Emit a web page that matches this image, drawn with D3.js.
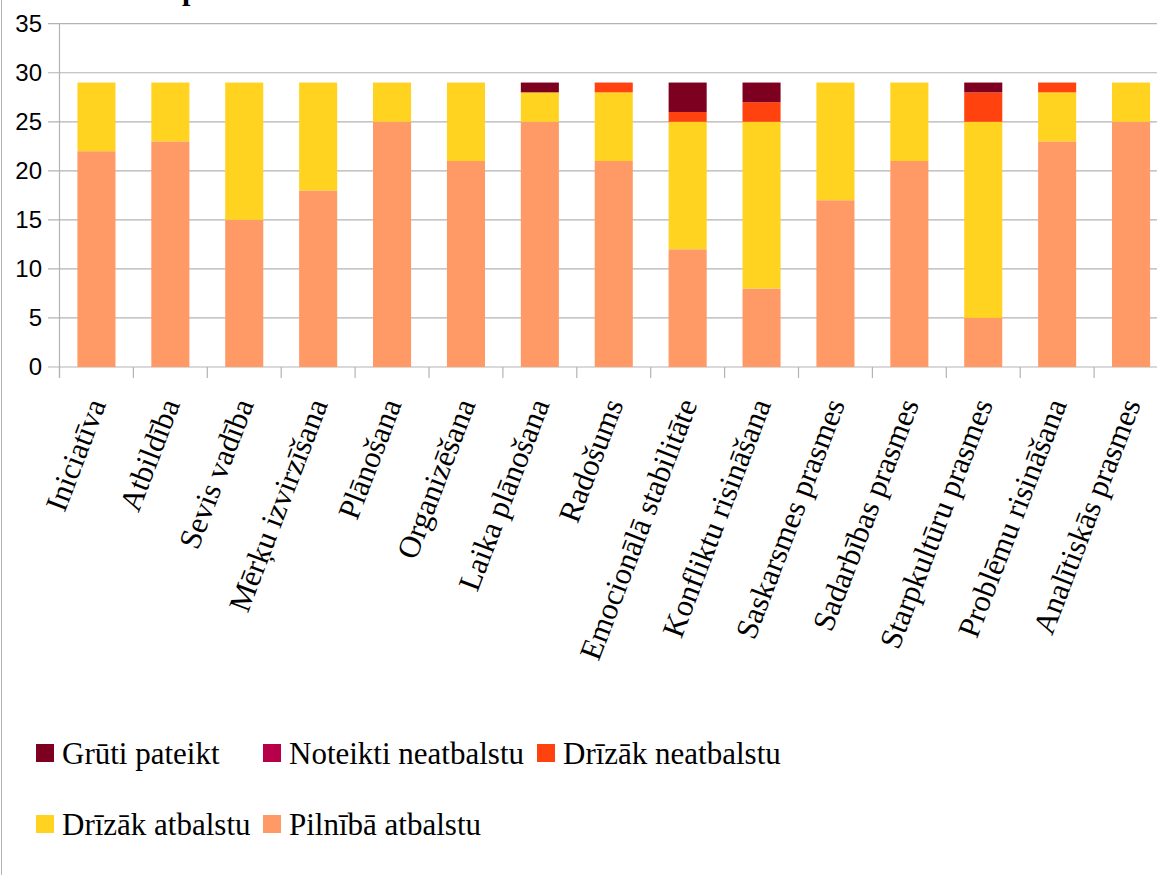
<!DOCTYPE html>
<html><head><meta charset="utf-8">
<script src="https://cdn.jsdelivr.net/npm/d3@7"></script>
<style>body{margin:0;background:#fff}svg{display:block}</style>
</head><body>
<svg id="c" width="1157" height="875"></svg>
<script>
const categories = ["Iniciatīva","Atbildība","Sevis vadība","Mērķu izvirzīšana","Plānošana","Organizēšana","Laika plānošana","Radošums","Emocionālā stabilitāte","Konfliktu risināšana","Saskarsmes prasmes","Sadarbības prasmes","Starpkultūru prasmes","Problēmu risināšana","Analītiskās prasmes"];
const pilnibaAtbalstu   = [22,23,15,18,25,21,25,21,12, 8,17,21, 5,23,25];
const drizakAtbalstu    = [ 7, 6,14,11, 4, 8, 3, 7,13,17,12, 8,20, 5, 4];
const drizakNeatbalstu  = [ 0, 0, 0, 0, 0, 0, 0, 1, 1, 2, 0, 0, 3, 1, 0];
const noteiktiNeatbalstu= [ 0, 0, 0, 0, 0, 0, 0, 0, 0, 0, 0, 0, 0, 0, 0];
const grutiPateikt      = [ 0, 0, 0, 0, 0, 0, 1, 0, 3, 2, 0, 0, 1, 0, 0];
const yTicks = [0,5,10,15,20,25,30,35];
const seriesNames = ["Pilnībā atbalstu","Drīzāk atbalstu","Drīzāk neatbalstu","Noteikti neatbalstu","Grūti pateikt"];
const seriesColors = ["#ff9966","#ffd320","#ff420e","#b8004a","#7e0021"];
const legendOrder = ["Grūti pateikt","Noteikti neatbalstu","Drīzāk neatbalstu","Drīzāk atbalstu","Pilnībā atbalstu"];

const seriesData = [pilnibaAtbalstu, drizakAtbalstu, drizakNeatbalstu, noteiktiNeatbalstu, grutiPateikt];
const table = categories.map((c,i)=>{const o={cat:c}; seriesNames.forEach((s,j)=>o[s]=seriesData[j][i]); return o;});
const stack = d3.stack().keys(seriesNames)(table);
const color = d3.scaleOrdinal().domain(seriesNames).range(seriesColors);

const svg = d3.select("#c");
svg.append("rect").attr("width",1157).attr("height",875).attr("fill","#fff");
svg.append("line").attr("x1",1.5).attr("x2",1.5).attr("y1",0).attr("y2",875).attr("stroke","#b3b3b3").attr("stroke-width",1);

// title, cut off by the top edge as in the reference
svg.append("text").attr("x",182).attr("y",0).attr("font-family","'Liberation Serif',serif").attr("font-weight","bold").attr("font-size",30).text("p");

const x0 = 59.5, x1 = 1168;
const x = d3.scaleBand().domain(categories).range([x0,x1]).paddingInner(0.485).paddingOuter(0.2425);
const y = d3.scaleLinear().domain([0,35]).range([367,23.7]);
const step = x.step();

svg.append("g").selectAll("line").data(yTicks).join("line")
  .attr("x1",48).attr("x2",1157).attr("y1",d=>y(d)).attr("y2",d=>y(d))
  .attr("stroke","#b3b3b3").attr("stroke-width",1.2);
svg.append("line").attr("x1",x0).attr("x2",x0).attr("y1",y(35)).attr("y2",378).attr("stroke","#b3b3b3").attr("stroke-width",1.2);
svg.append("g").selectAll("text").data(yTicks).join("text")
  .attr("x",42).attr("y",d=>y(d)).attr("dy","0.35em").attr("text-anchor","end")
  .attr("font-family","'Liberation Sans',Arial,sans-serif").attr("font-size",24).attr("fill","#000").text(d=>d);
const bounds = d3.range(categories.length+1).map(k=>x0+k*step);
svg.append("g").selectAll("line").data(bounds).join("line")
  .attr("x1",d=>d).attr("x2",d=>d).attr("y1",367).attr("y2",378).attr("stroke","#b3b3b3").attr("stroke-width",1.2);

svg.append("g").selectAll("g").data(stack).join("g").attr("fill",d=>color(d.key))
  .selectAll("rect").data(d=>d).join("rect")
  .attr("x",d=>x(d.data.cat)).attr("width",x.bandwidth())
  .attr("y",d=>y(d[1])).attr("height",d=>y(d[0])-y(d[1]));

svg.append("g").selectAll("text").data(categories).join("text")
  .attr("transform",d=>`translate(${x(d)+x.bandwidth()/2+10},${404}) rotate(-69)`)
  .attr("text-anchor","end").attr("font-family","'Liberation Serif','Times New Roman',serif")
  .attr("font-size",31).attr("fill","#000").text(d=>d);

const rows = [legendOrder.slice(0,3), legendOrder.slice(3)];
const rowY = [753, 824];
const colX = [36, 263, 537];
rows.forEach((r,ri)=>{
  r.forEach((name,ci)=>{
    const g = svg.append("g").attr("transform",`translate(${colX[ci]},${rowY[ri]})`);
    g.append("rect").attr("x",0).attr("y",-9).attr("width",18).attr("height",18).attr("fill",color(name));
    g.append("text").attr("x",26).attr("y",0).attr("dy","0.35em").attr("font-family","'Liberation Serif','Times New Roman',serif")
      .attr("font-size",31).attr("fill","#000").text(name);
  });
});
</script>
</body></html>
